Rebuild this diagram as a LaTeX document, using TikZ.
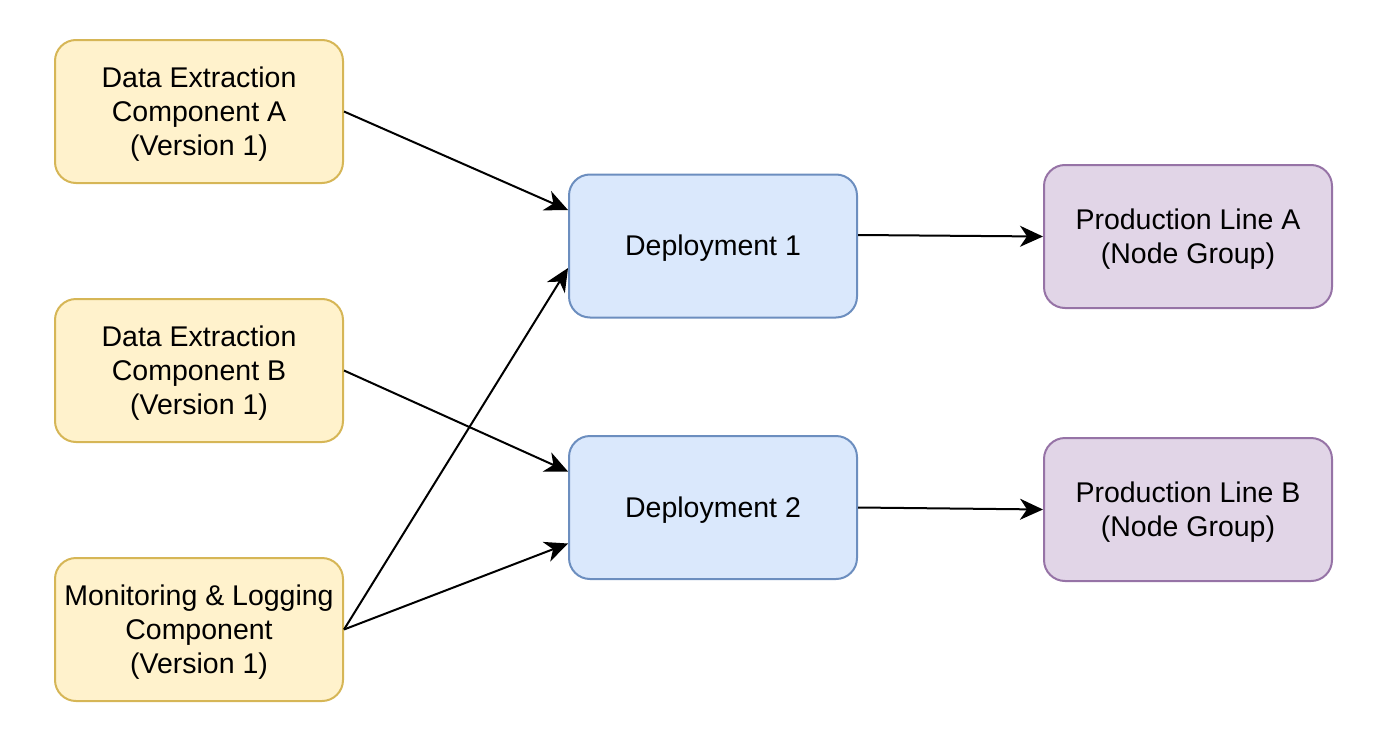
\documentclass[tikz,border=0pt]{standalone}
\usepackage{fontspec}
\setmainfont{Liberation Sans}
\usetikzlibrary{arrows.meta}
\definecolor{yfill}{HTML}{FFF2CC}\definecolor{ydraw}{HTML}{D6B656}
\definecolor{bfill}{HTML}{DAE8FC}\definecolor{bdraw}{HTML}{6C8EBF}
\definecolor{pfill}{HTML}{E1D5E7}\definecolor{pdraw}{HTML}{9673A6}
\newcommand\boxlbl[1]{\raisebox{-3pt}[\height][\depth]{\begin{tabular}{@{}c@{}}#1\end{tabular}}}
\begin{document}
\begin{tikzpicture}[x=1pt,y=-1pt,
  box/.style={rectangle,rounded corners=21pt,line width=2pt,minimum width=288pt,minimum height=143pt,inner sep=0pt,font=\fontsize{28.5}{34.2}\selectfont},
  ybox/.style={box,fill=yfill,draw=ydraw},
  bbox/.style={box,fill=bfill,draw=bdraw},
  pbox/.style={box,fill=pfill,draw=pdraw},
  conn/.style={line width=2pt,-{Stealth[length=23pt,width=21pt,inset=7pt]}}]
\useasboundingbox (0,0) rectangle (1390,744);
\node[ybox] (A) at (199,111.5) {\boxlbl{Data Extraction\\Component A\\(Version 1)}};
\node[ybox] (B) at (199,370.5) {\boxlbl{Data Extraction\\Component B\\(Version 1)}};
\node[ybox] (C) at (199,629.5) {\boxlbl{Monitoring \& Logging\\Component\\(Version 1)}};
\node[bbox] (D1) at (713,246) {\boxlbl{Deployment 1}};
\node[bbox] (D2) at (713,507.5) {\boxlbl{Deployment 2}};
\node[pbox] (PA) at (1188,236.5) {\boxlbl{Production Line A\\(Node Group)}};
\node[pbox] (PB) at (1188,509.5) {\boxlbl{Production Line B\\(Node Group)}};
\draw[conn] (A.east) -- ([yshift=36pt]D1.west);
\draw[conn] (B.east) -- ([yshift=36pt]D2.west);
\draw[conn] (C.east) -- ([yshift=-22pt]D1.west);
\draw[conn] (C.east) -- ([yshift=-36pt]D2.west);
\draw[conn] ([yshift=11pt]D1.east) -- (PA.west);
\draw[conn] (D2.east) -- (PB.west);
\end{tikzpicture}
\end{document}
